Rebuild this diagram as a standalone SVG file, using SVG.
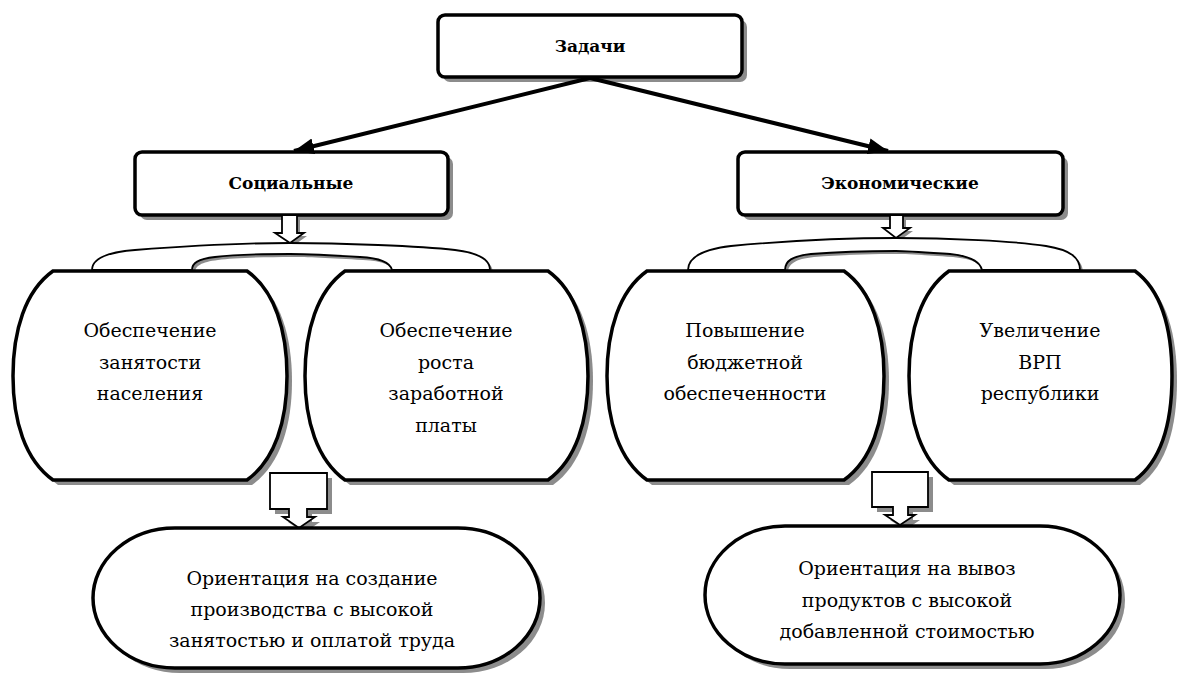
<svg xmlns="http://www.w3.org/2000/svg" width="1177" height="675" viewBox="0 0 1177 675">
<defs>
<style>
.sh{fill:#8c8c8c;stroke:none}
.box{fill:#fff;stroke:#000;stroke-width:3.5}
.node{fill:#fff;stroke:#000;stroke-width:3.5}
.brace{fill:#fff;stroke:#000;stroke-width:1.8}
.barrow{fill:#fff;stroke:#000;stroke-width:1.8}
.conn{fill:none;stroke:#000;stroke-width:4}
.hd{font-family:'DejaVu Serif',serif;font-weight:bold;font-size:17px;text-anchor:middle;fill:#000}
.tx{font-family:'DejaVu Serif',serif;font-size:19px;text-anchor:middle;fill:#000}
</style>
<marker id="ah" markerUnits="userSpaceOnUse" markerWidth="22" markerHeight="18" refX="20" refY="9" orient="auto">
<path d="M0,1 L20,9 L0,17 Z" fill="#000"/>
</marker>
</defs>
<g id="node-zadachi">
<rect class="sh" x="443" y="20" width="304" height="62" rx="7"/>
<rect class="box" x="438" y="15" width="304" height="62" rx="7"/>
<text class="hd" x="590" y="52">Задачи</text>
</g>

<g id="node-social">
<rect class="sh" x="140" y="157" width="313" height="63" rx="7"/>
<rect class="box" x="135" y="152" width="313" height="63" rx="7"/>
<text class="hd" x="291" y="189">Социальные</text>
</g>

<g id="node-econ">
<rect class="sh" x="743" y="157" width="325" height="63" rx="7"/>
<rect class="box" x="738" y="152" width="325" height="63" rx="7"/>
<text class="hd" x="900" y="189">Экономические</text>
</g>

<g id="connectors">
<line class="conn" x1="590" y1="78" x2="294" y2="151" marker-end="url(#ah)"/>
<line class="conn" x1="590" y1="78" x2="888" y2="151" marker-end="url(#ah)"/>
</g>

<g id="arrow-social-top">
<polygon class="sh" points="285,218 300,218 300,236 307,236 293,246 278,236 285,236"/>
<polygon class="barrow" points="282,215 297,215 297,233 304,233 290,243 275,233 282,233"/>
</g>
<g id="arrow-econ-top">
<polygon class="sh" points="893,218 906,218 906,231 913,231 899,241 886,231 893,231"/>
<polygon class="barrow" points="890,215 903,215 903,228 910,228 896,238 883,228 890,228"/>
</g>

<g id="brace-social">
<path class="sh" transform="translate(3,3)" d="M92,270 C92,258 110,252 135,250 C200,245 250,243 290,243 C340,243 420,246 455,250 C480,253 490,260 490,270 H392 C390,262 380,258 360,257 C330,255 300,254 290,254 C260,254 230,255 215,257 C198,259 192,263 192,270 Z"/>
<path class="brace" d="M92,270 C92,258 110,252 135,250 C200,245 250,243 290,243 C340,243 420,246 455,250 C480,253 490,260 490,270 H392 C390,262 380,258 360,257 C330,255 300,254 290,254 C260,254 230,255 215,257 C198,259 192,263 192,270 Z"/>
</g>
<g id="brace-econ">
<path class="sh" transform="translate(3,3)" d="M688,270 C688,256 706,249 731,246 C796,240 856,238 896,238 C946,238 1016,241 1046,246 C1071,250 1080,258 1080,270 H982 C980,261 970,256 950,254 C920,252 906,251 896,251 C866,251 836,252 811,254 C792,256 785,261 785,270 Z"/>
<path class="brace" d="M688,270 C688,256 706,249 731,246 C796,240 856,238 896,238 C946,238 1016,241 1046,246 C1071,250 1080,258 1080,270 H982 C980,261 970,256 950,254 C920,252 906,251 896,251 C866,251 836,252 811,254 C792,256 785,261 785,270 Z"/>
</g>

<g id="node-zanyatost">
<path class="sh" transform="translate(5,5)" d="M53,271 H247 C275,291 287,331 287,376 C287,421 275,460 247,480 H53 C25,460 13,421 13,376 C13,331 25,291 53,271 Z"/>
<path class="node" d="M53,271 H247 C275,291 287,331 287,376 C287,421 275,460 247,480 H53 C25,460 13,421 13,376 C13,331 25,291 53,271 Z"/>
<text class="tx" x="150" y="337">Обеспечение</text>
<text class="tx" x="150" y="369">занятости</text>
<text class="tx" x="150" y="400">населения</text>
</g>

<g id="node-zarplata">
<path class="sh" transform="translate(5,5)" d="M345,271 H548 C576,291 588,331 588,376 C588,421 576,460 548,480 H345 C317,460 305,421 305,376 C305,331 317,291 345,271 Z"/>
<path class="node" d="M345,271 H548 C576,291 588,331 588,376 C588,421 576,460 548,480 H345 C317,460 305,421 305,376 C305,331 317,291 345,271 Z"/>
<text class="tx" x="446" y="337">Обеспечение</text>
<text class="tx" x="446" y="369">роста</text>
<text class="tx" x="446" y="400">заработной</text>
<text class="tx" x="446" y="432">платы</text>
</g>

<g id="node-byudzhet">
<path class="sh" transform="translate(5,5)" d="M647,271 H844 C872,291 884,331 884,376 C884,421 872,460 844,480 H647 C619,460 607,421 607,376 C607,331 619,291 647,271 Z"/>
<path class="node" d="M647,271 H844 C872,291 884,331 884,376 C884,421 872,460 844,480 H647 C619,460 607,421 607,376 C607,331 619,291 647,271 Z"/>
<text class="tx" x="745" y="337">Повышение</text>
<text class="tx" x="745" y="369">бюджетной</text>
<text class="tx" x="745" y="400">обеспеченности</text>
</g>

<g id="node-vrp">
<path class="sh" transform="translate(5,5)" d="M949,271 H1135 C1162,291 1172,331 1172,376 C1172,421 1162,460 1135,480 H949 C921,460 909,421 909,376 C909,331 921,291 949,271 Z"/>
<path class="node" d="M949,271 H1135 C1162,291 1172,331 1172,376 C1172,421 1162,460 1135,480 H949 C921,460 909,421 909,376 C909,331 921,291 949,271 Z"/>
<text class="tx" x="1040" y="337">Увеличение</text>
<text class="tx" x="1040" y="369">ВРП</text>
<text class="tx" x="1040" y="400">республики</text>
</g>

<g id="arrow-social-bottom">
<polygon class="sh" points="275,478 332,478 332,514 312,514 312,522 320,522 304,533 288,522 294,522 294,514 275,514"/>
<polygon class="barrow" points="270,473 327,473 327,509 307,509 307,517 315,517 299,528 283,517 289,517 289,509 270,509"/>
</g>
<g id="arrow-econ-bottom">
<polygon class="sh" points="877,477 933,477 933,512 913,512 913,520 920,520 905,530 890,520 898,520 898,512 877,512"/>
<polygon class="barrow" points="872,472 928,472 928,507 908,507 908,515 915,515 900,525 885,515 893,515 893,507 872,507"/>
</g>

<g id="node-orient-social">
<rect class="sh" x="98" y="533" width="447" height="140" rx="82" ry="70"/>
<rect class="node" x="93" y="528" width="447" height="140" rx="82" ry="70"/>
<text class="tx" x="312" y="585">Ориентация на создание</text>
<text class="tx" x="312" y="616">производства с высокой</text>
<text class="tx" x="312" y="647">занятостью и оплатой труда</text>
</g>

<g id="node-orient-econ">
<rect class="sh" x="710" y="531" width="415" height="138" rx="80" ry="69"/>
<rect class="node" x="705" y="526" width="415" height="138" rx="80" ry="69"/>
<text class="tx" x="907" y="575">Ориентация на вывоз</text>
<text class="tx" x="907" y="607">продуктов с высокой</text>
<text class="tx" x="907" y="638">добавленной стоимостью</text>
</g>
</svg>
